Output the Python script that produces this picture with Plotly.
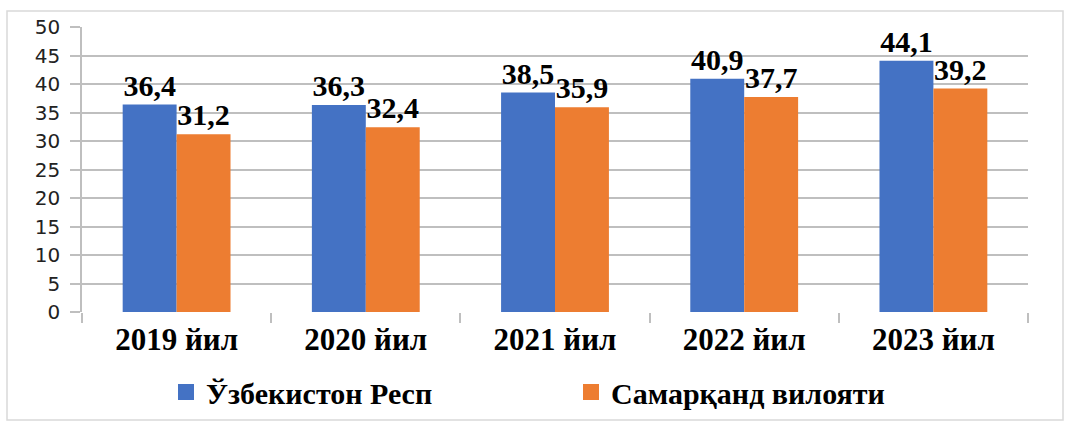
import plotly.graph_objects as go

categories = ["2019 йил", "2020 йил", "2021 йил", "2022 йил", "2023 йил"]
uzb_values = [36.4, 36.3, 38.5, 40.9, 44.1]
sam_values = [31.2, 32.4, 35.9, 37.7, 39.2]
uzb_labels = ["36,4", "36,3", "38,5", "40,9", "44,1"]
sam_labels = ["31,2", "32,4", "35,9", "37,7", "39,2"]
series_names = ["Ўзбекистон Респ", "Самарқанд вилояти"]
y_ticks = [0, 5, 10, 15, 20, 25, 30, 35, 40, 45, 50]

BLUE = "#4472C4"
ORANGE = "#ED7D31"
SERIF = "Liberation Serif"
GRID = "#BFBFBF"

fig = go.Figure()
for vals, labs, col in [(uzb_values, uzb_labels, BLUE), (sam_values, sam_labels, ORANGE)]:
    fig.add_trace(go.Bar(
        x=categories, y=vals, text=labs, texttemplate="<b>%{text}</b>", textposition="outside",
        textfont=dict(family=SERIF, size=30, color="black"),
        marker=dict(color=col, line=dict(width=0)),
        cliponaxis=False, constraintext="none", showlegend=False,
    ))
for name, col in zip(series_names, [BLUE, ORANGE]):
    fig.add_trace(go.Scatter(
        x=[None], y=[None], mode="markers", name="<b>" + name + "</b>",
        marker=dict(symbol="square", size=16, color=col),
    ))

W, H = 1066, 421
L, R, T, B = 82, 38, 27, 109
pw, ph = W - L - R, H - T - B

def px(x):
    return (x - L) / pw

def py(y):
    return (H - B - y) / ph

fig.add_shape(type="rect", xref="paper", yref="paper",
              x0=px(7), x1=px(1063), y0=py(420), y1=py(11),
              line=dict(color="#D9D9D9", width=1.5), fillcolor="rgba(0,0,0,0)", layer="below")

fig.update_layout(
    width=W, height=H,
    margin=dict(l=L, r=R, t=T, b=B, autoexpand=False),
    paper_bgcolor="white", plot_bgcolor="white",
    barmode="group", bargap=0.43, bargroupgap=0,
    xaxis=dict(
        type="category", showgrid=False, showline=False, automargin=False,
        tickvals=categories, ticktext=["<b>" + c + "</b>" for c in categories],
        ticks="outside", tickson="boundaries", ticklen=10, tickcolor=GRID, tickwidth=1.5,
        tickfont=dict(family=SERIF, size=31, color="black"),
        ticklabelstandoff=6,
    ),
    yaxis=dict(
        range=[0, 50], tickvals=y_ticks, showgrid=True, gridcolor=GRID, gridwidth=1.5,
        showline=True, linecolor=GRID, linewidth=1.5, automargin=False,
        ticks="outside", ticklen=10, tickcolor=GRID, tickwidth=1.5,
        tickfont=dict(family="DejaVu Sans", size=20, color="#222222"),
        ticklabelstandoff=6, zeroline=False,
    ),
    legend=dict(
        orientation="h", x=px(166), xanchor="left", y=py(392), yanchor="middle",
        font=dict(family=SERIF, size=30, color="black"),
        entrywidth=360, entrywidthmode="pixels", bgcolor="rgba(0,0,0,0)",
    ),
)

fig.write_html("out.html", config={"displayModeBar": False},
               post_script="document.body.style.margin='0';")
